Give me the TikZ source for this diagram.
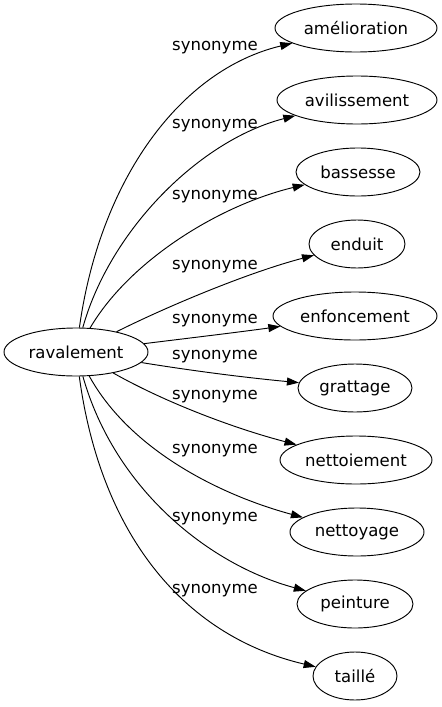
\documentclass[tikz,border=0pt]{standalone}
\usepackage{fontspec}
\setmainfont{DejaVu Sans}
\usetikzlibrary{shapes.geometric,arrows.meta}
\tikzset{
  word/.style={draw, ellipse, inner sep=0pt, minimum height=36pt, line width=0.7pt, minimum width=#1*0.75pt,
    font=\fontsize{12.4pt}{14pt}\selectfont},
  rel/.style={font=\fontsize{12.4pt}{14pt}\selectfont, inner sep=0pt},
  link/.style={line width=0.7pt, -{Triangle[length=9pt,width=6pt]}}
}
\begin{document}
\begin{tikzpicture}[x=0.75pt,y=-0.75pt]
\useasboundingbox (0,0) rectangle (442,707);
\node[word=144] (src) at (76,352) {ravalement};
\node[word=162] (t1) at (356,28) {amélioration};
\node[word=160] (t2) at (357,100) {avilissement};
\node[word=124] (t3) at (358,172) {bassesse};
\node[word=96] (t4) at (357,244) {enduit};
\node[word=164] (t5) at (355,316) {enfoncement};
\node[word=114] (t6) at (355,388) {grattage};
\node[word=152] (t7) at (356,460) {nettoiement};
\node[word=134] (t8) at (357,532) {nettoyage};
\node[word=116] (t9) at (355,604) {peinture};
\node[word=84] (t10) at (355,676) {taillé};
\draw[link] (src) .. controls (100,180) and (180,70) .. (t1);
\draw[link] (src) .. controls (110,230) and (200,140) .. (t2);
\draw[link] (src) .. controls (130,260) and (220,205) .. (t3);
\draw[link] (src) .. controls (170,305) and (250,272) .. (t4);
\draw[link] (src) .. controls (190,338) and (240,332) .. (t5);
\draw[link] (src) .. controls (200,372) and (250,378) .. (t6);
\draw[link] (src) .. controls (170,405) and (240,430) .. (t7);
\draw[link] (src) .. controls (130,450) and (220,495) .. (t8);
\draw[link] (src) .. controls (115,490) and (210,565) .. (t9);
\draw[link] (src) .. controls (100,530) and (180,635) .. (t10);
\node[rel] (l1) at (215,48) {synonyme};
\node[rel] (l2) at (215,126) {synonyme};
\node[rel] (l3) at (215,197) {synonyme};
\node[rel] (l4) at (215,267) {synonyme};
\node[rel] (l5) at (215,321) {synonyme};
\node[rel] (l6) at (215,357) {synonyme};
\node[rel] (l7) at (215,397) {synonyme};
\node[rel] (l8) at (215,451) {synonyme};
\node[rel] (l9) at (215,519) {synonyme};
\node[rel] (l10) at (215,591) {synonyme};
\end{tikzpicture}
\end{document}
